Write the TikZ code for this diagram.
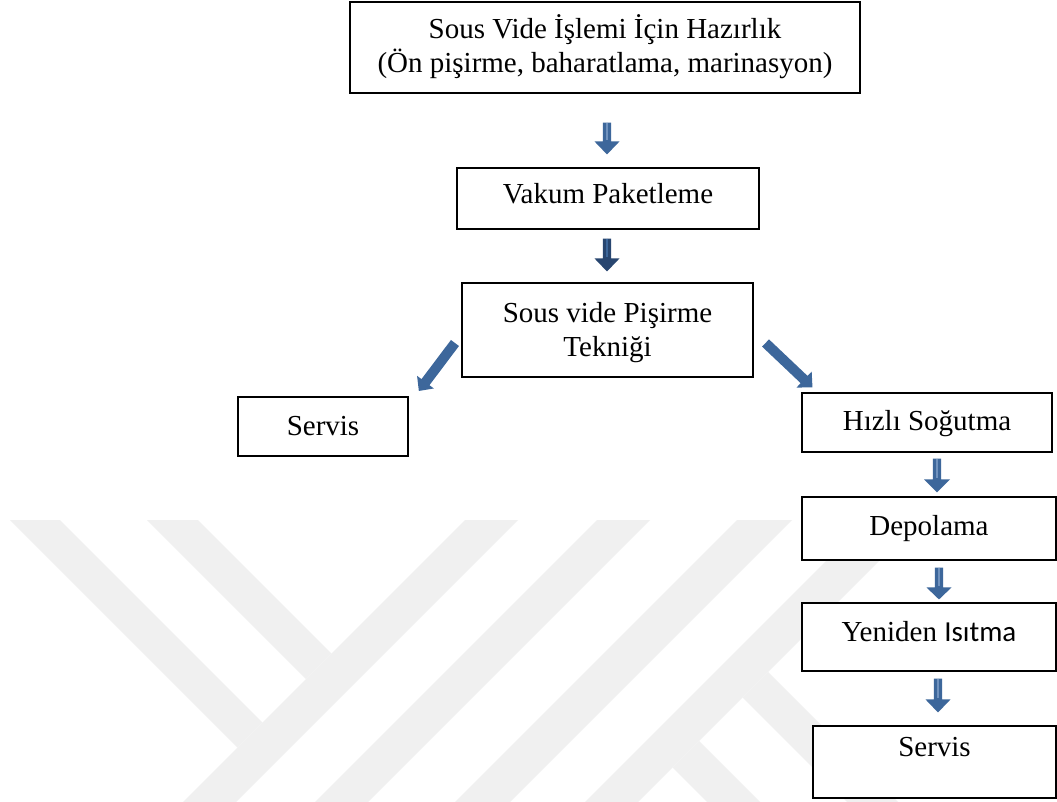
\documentclass[tikz,border=0pt]{standalone}
\usepackage{fontspec}
\setmainfont{Liberation Serif}
\newfontfamily\calibrifont{Carlito}
\usetikzlibrary{calc}
\definecolor{arrowblue}{RGB}{61,103,155}
\definecolor{arrowdark}{RGB}{40,70,112}
\definecolor{stripeblue}{RGB}{112,146,190}
\definecolor{wmgray}{RGB}{240,240,240}
\newcommand{\blockarrow}[6]{% #1 colour, #2 tail, #3 tip, #4 shaft half width, #5 head half width, #6 head length
  \coordinate (ba-b) at ($(#3)!#6!(#2)$);
  \fill[#1] ($(#2)!#4!90:(#3)$) -- ($(ba-b)!#4!90:(#3)$) -- ($(ba-b)!#5!90:(#3)$) -- (#3)
    -- ($(ba-b)!#5!-90:(#3)$) -- ($(ba-b)!#4!-90:(#3)$) -- ($(#2)!#4!-90:(#3)$) -- cycle;
}
\begin{document}
\begin{tikzpicture}[x=1pt,y=-1pt,
  box/.style={draw=black, line width=1.1pt, fill=white, inner sep=0pt,
    font=\fontsize{29}{34}\selectfont, text height=20pt},
  wm/.style={fill=wmgray},
  shaftline/.style={draw=stripeblue, line width=1.3pt}]
\useasboundingbox (0,0) rectangle (1057,802);
\fill[white] (0,0) rectangle (1057,802);
% faint background watermark
\path[wm] (10,520) -- (60,520) -- (262.5,722.5) -- (237.5,747.5) -- cycle;
\path[wm] (147,520) -- (198,520) -- (331.5,653.5) -- (306,679) -- cycle;
\path[wm] (465,520) -- (518,520) -- (236,802) -- (183,802) -- cycle;
\path[wm] (597,520) -- (650,520) -- (368,802) -- (315,802) -- cycle;
\path[wm] (737,520) -- (792,520) -- (510,802) -- (455,802) -- cycle;
\path[wm] (867,520) -- (920,520) -- (638,802) -- (585,802) -- cycle;
\path[wm] (742.5,697.5) -- (768,672) -- (898,802) -- (847,802) -- cycle;
\path[wm] (672.5,767.5) -- (699,741) -- (760,802) -- (707,802) -- cycle;

% boxes
\node[box, minimum width=510pt, minimum height=91pt, text depth=38pt] (prep) at (605,47.5)
  {\begin{tabular}[t]{@{}c@{}}Sous Vide İşlemi İçin Hazırlık\\(Ön pişirme, baharatlama, marinasyon)\end{tabular}};
\node[box, minimum width=302pt, minimum height=61pt, text depth=9pt] (vak) at (608,198.5) {Vakum Paketleme};
\node[box, minimum width=291pt, minimum height=94pt, text depth=36pt] (sous) at (607.5,330)
  {\begin{tabular}[t]{@{}c@{}}Sous vide Pişirme\\Tekniği\end{tabular}};
\node[box, minimum width=170pt, minimum height=59pt, text depth=3pt] (servisL) at (323,426.5) {Servis};
\node[box, minimum width=250pt, minimum height=59pt, text depth=5pt] (hizli) at (927,422.5) {Hızlı Soğutma};
\node[box, minimum width=254pt, minimum height=63pt, text depth=7pt] (depo) at (929,528.5) {Depolama};
\node[box, minimum width=254pt, minimum height=68pt, text depth=10.5pt] (yeni) at (929,637) {Yeniden {\calibrifont Isıtma}};
\node[box, minimum width=243pt, minimum height=72pt, text depth=30.5pt] (servisR) at (934.5,762) {Servis};

% connector end points
\coordinate (a1t) at ($(prep.south)+(2,29)$);
\coordinate (a1h) at ($(vak.north)+(-1,-13)$);
\coordinate (a2t) at ($(vak.south)+(-1,9)$);
\coordinate (a2h) at ($(sous.north)+(-0.5,-11)$);
\coordinate (aLt) at ($(sous.west)+(-6.5,13)$);
\coordinate (aLh) at ($(servisL.north east)+(10.3,-5.5)$);
\coordinate (aRt) at ($(sous.east)+(12,13)$);
\coordinate (aRh) at ($(hizli.north west)+(11,-5)$);
\coordinate (a3t) at ($(hizli.south)+(10,6)$);
\coordinate (a3h) at ($(depo.north)+(8,-4)$);
\coordinate (a4t) at ($(depo.south)+(10,7)$);
\coordinate (a4h) at ($(yeni.north)+(10,-3)$);
\coordinate (a5t) at ($(yeni.south)+(9,7)$);
\coordinate (a5h) at ($(servisR.north)+(3.5,-13)$);

% block arrows
\blockarrow{arrowblue}{a1t}{a1h}{4.2pt}{12.5pt}{13pt}
\draw[shaftline] (a1t) -- ($(a1h)+(0,-14)$);
\blockarrow{arrowdark}{a2t}{a2h}{4.2pt}{12.5pt}{13pt}
\draw[shaftline, draw=arrowblue] (a2t) -- ($(a2h)+(0,-14)$);
\blockarrow{arrowblue}{aLt}{aLh}{5pt}{10.5pt}{11pt}
\blockarrow{arrowblue}{aRt}{aRh}{5pt}{11pt}{11.5pt}
\blockarrow{arrowblue}{a3t}{a3h}{4.2pt}{13pt}{13pt}
\draw[shaftline] (a3t) -- ($(a3h)+(0,-14)$);
\blockarrow{arrowblue}{a4t}{a4h}{4.2pt}{12.5pt}{12pt}
\draw[shaftline] (a4t) -- ($(a4h)+(0,-13)$);
\blockarrow{arrowblue}{a5t}{a5h}{4.2pt}{12.5pt}{13pt}
\draw[shaftline] (a5t) -- ($(a5h)+(0,-14)$);
\end{tikzpicture}
\end{document}
